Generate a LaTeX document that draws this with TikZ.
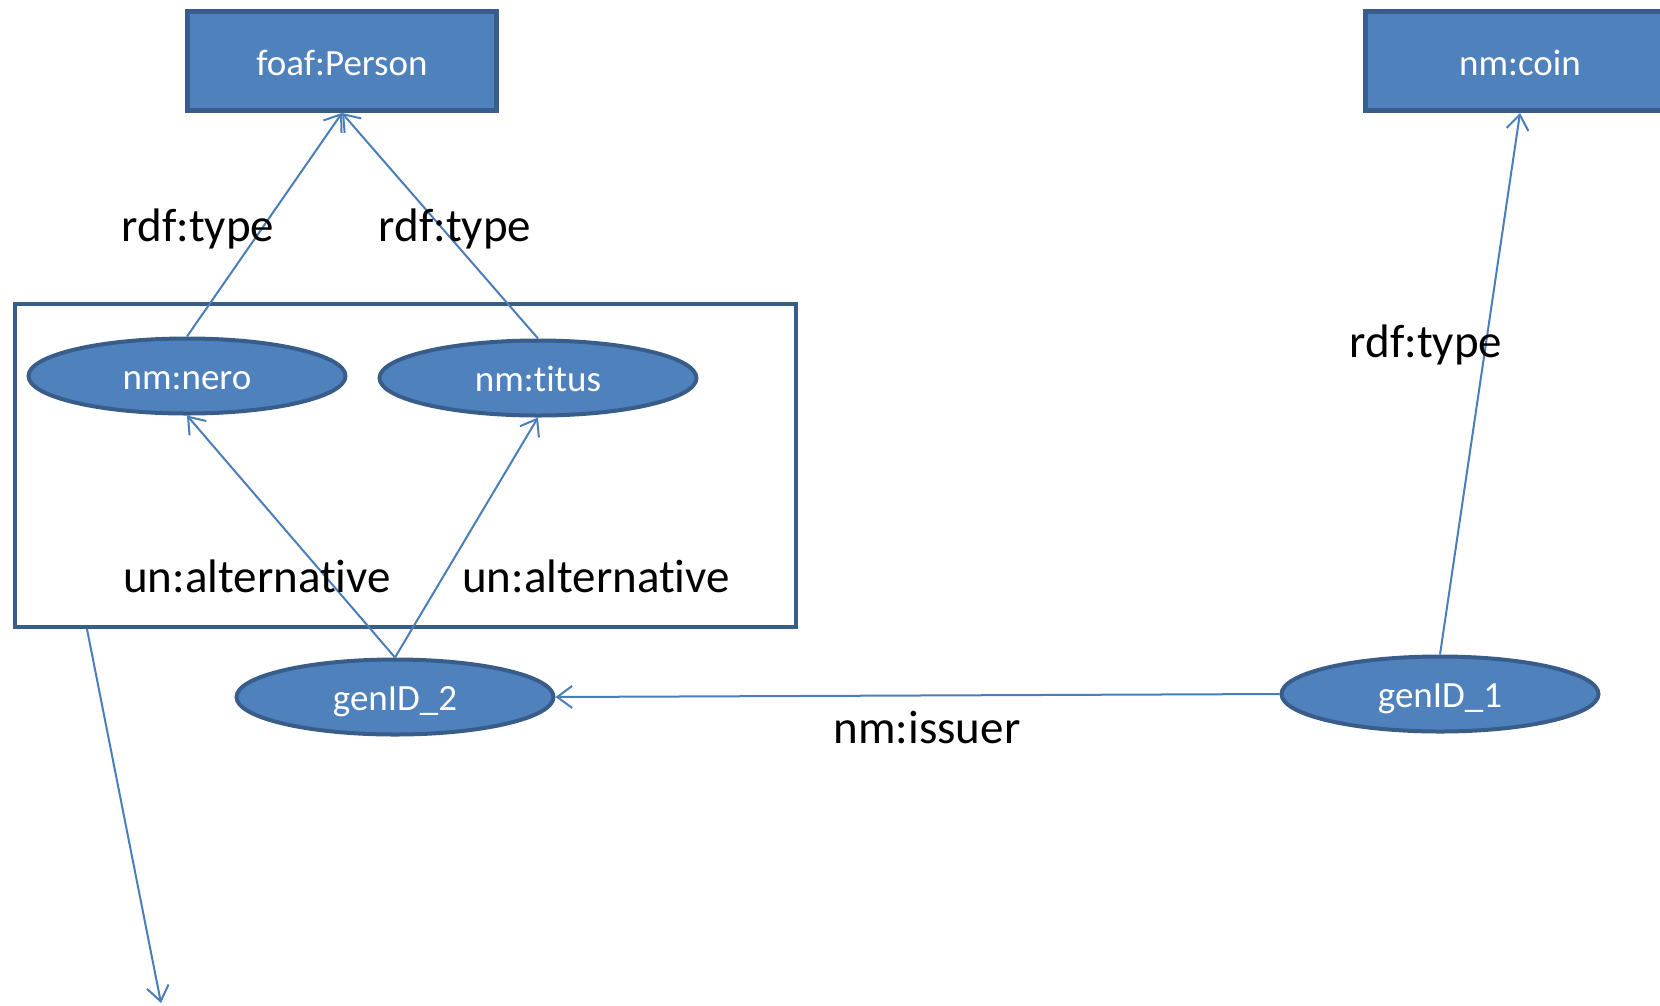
\documentclass[tikz,border=0pt]{standalone}
\usepackage{fontspec}
\setmainfont{Carlito}[Ligatures=NoCommon]
\usetikzlibrary{arrows.meta,shapes.geometric}
\definecolor{boxfill}{HTML}{4F81BD}
\definecolor{boxline}{HTML}{385D8A}
\definecolor{linkcol}{HTML}{4A7EBB}
\tikzset{
  classbox/.style={draw=boxline, fill=boxfill, line width=5pt, rectangle,
    minimum width=309pt, minimum height=99pt, text=white,
    text height=28pt, text depth=0pt,
    font=\fontsize{37}{44}\selectfont},
  resource/.style={draw=boxline, fill=boxfill, line width=4pt, ellipse,
    minimum width=317pt, minimum height=75pt, inner sep=0pt, text=white,
    text height=26pt, text depth=0pt,
    font=\fontsize{37}{44}\selectfont},
  groupbox/.style={draw=boxline, line width=4pt, rectangle,
    minimum width=781pt, minimum height=323pt},
  edgelabel/.style={text=black, inner sep=0pt,
    text height=32pt, text depth=0pt,
    font=\fontsize{47}{56}\selectfont},
  link/.style={draw=linkcol, line width=2pt,
    -{Straight Barb[length=15pt,width=22pt,line width=2pt]}}
}
\begin{document}
\begin{tikzpicture}[x=1pt,y=-1pt]
  \useasboundingbox (0,0) rectangle (1660,1005);
  \begin{scope}
    \clip (0,0) rectangle (1660,1005);

    % classes
    \node[classbox] (person) at (342,61) {foaf:Person};
    \node[classbox] (coin) at (1520,61) {nm:coin};

    % group of alternatives
    \node[groupbox] (group) at (405.5,465.5) {};

    % resources
    \node[resource] (nero) at (187,376) {nm:nero};
    \node[resource] (titus) at (538,378) {nm:titus};
    \node[resource] (gen2) at (395,697) {genID\_2};
    \node[resource] (gen1) at (1440,694) {genID\_1};

    % free end of the outgoing link
    \coordinate (groupout) at ([xshift=74pt]group.south west);
    \coordinate (away) at (161,1003);

    % links
    \draw[link] (nero.north) -- (person.south);
    \draw[link] (titus.north) -- (person.south);
    \draw[link] (gen2.north) -- (nero.south);
    \draw[link] (gen2.north) -- (titus.south);
    \draw[link] (gen1.west) -- (gen2.east);
    \draw[link] (gen1.north) -- (coin.south);
    \draw[link] (groupout) -- (away);

    % link labels
    \node[edgelabel] (l1) at (198,225) {rdf:type};
    \node[edgelabel] (l2) at (455,225) {rdf:type};
    \node[edgelabel] (l3) at (1426,341) {rdf:type};
    \node[edgelabel] (l4) at (257,576) {un:alternative};
    \node[edgelabel] (l5) at (596,576) {un:alternative};
    \node[edgelabel] (l6) at (927,727) {nm:issuer};
  \end{scope}
\end{tikzpicture}
\end{document}
